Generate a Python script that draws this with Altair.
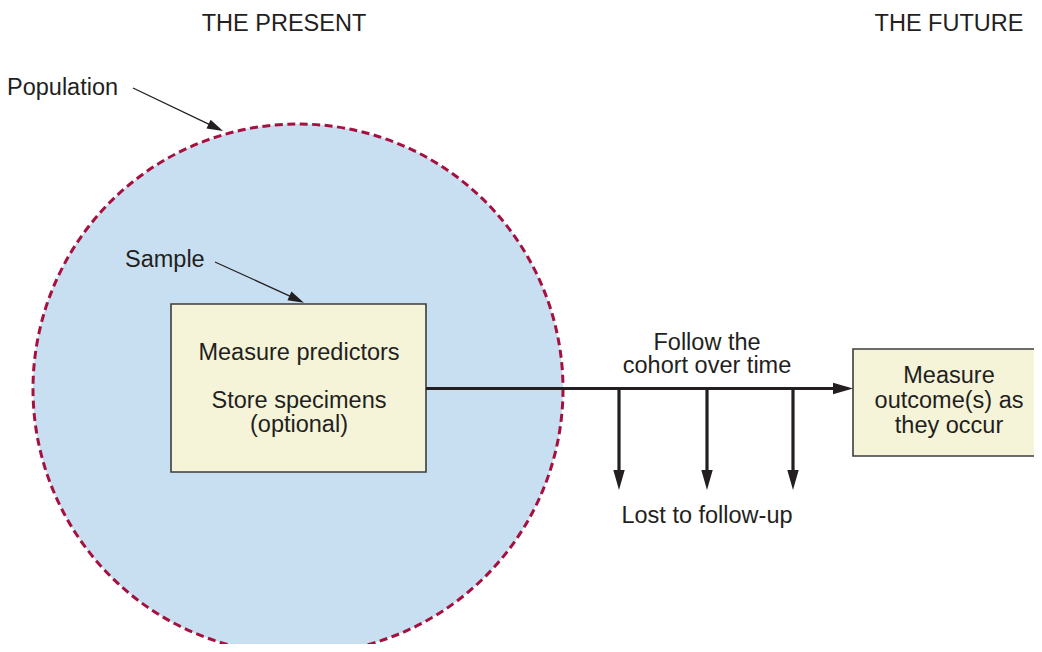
import altair as alt
import pandas as pd

# ---- layout data (image pixel coordinates) ----
circle_x = [298]
circle_y = [389]
circle_d = [530]

box_x1 = [171, 853]
box_x2 = [426, 1060]
box_y1 = [304, 349]
box_y2 = [472, 456]

# thick arrow shafts
shaft_x1 = [426, 619, 707, 793]
shaft_x2 = [836, 619, 707, 793]
shaft_y1 = [388.5, 388.5, 388.5, 388.5]
shaft_y2 = [388.5, 472, 472, 472]

# thick arrow heads (centre, angle)
head_x = [843, 619, 707, 793]
head_y = [388.5, 480, 480, 480]
head_angle = [0, 90, 90, 90]

# thin pointer lines
ptr_x1 = [133, 215]
ptr_y1 = [88, 262]
ptr_x2 = [216, 297]
ptr_y2 = [127.6, 299.3]
ptr_head_x = [215.8, 296.7]
ptr_head_y = [127.6, 299.3]
ptr_angle = [25.5, 24.7]

# single-line centred labels
labels = ["THE PRESENT", "THE FUTURE", "Lost to follow-up", "Measure predictors"]
label_x = [284, 949, 707, 299]
label_y = [31, 31, 523, 360]

# multi-line centred labels (first-line baseline, line height)
ml_labels = ["Follow the\ncohort over time", "Store specimens\n(optional)",
             "Measure\noutcome(s) as\nthey occur"]
ml_x = [707, 299, 949]
ml_y = [350, 408, 383]
ml_lh = [23, 24, 25]

left_labels = ["Population", "Sample"]
left_x = [7, 125]
left_y = [95, 267]

# ---- scales ----
xs = alt.Scale(domain=[8, 1034], nice=False, zero=False)
ys = alt.Scale(domain=[8, 644], nice=False, zero=False, reverse=True)
X = lambda f: alt.X(f, scale=xs, axis=None)
Y = lambda f: alt.Y(f, scale=ys, axis=None)

ink = "#231f20"
font = "Liberation Sans"
fs = 23.5

circle = alt.Chart(pd.DataFrame({"x": circle_x, "y": circle_y, "d": circle_d})).transform_calculate(
    s="datum.d * datum.d").mark_point(
    shape="circle", filled=False, fill="#c8dff2", fillOpacity=1,
    stroke="#a5103f", strokeWidth=3, strokeDash=[8, 4.5], opacity=1
).encode(x=X("x:Q"), y=Y("y:Q"), size=alt.Size("s:Q", scale=None))

boxes = alt.Chart(pd.DataFrame({"x1": box_x1, "x2": box_x2, "y1": box_y1, "y2": box_y2})).mark_rect(
    fill="#f5f4d9", stroke="#3c3c3c", strokeWidth=1.6
).encode(x=X("x1:Q"), x2="x2:Q", y=Y("y1:Q"), y2="y2:Q")

shafts = alt.Chart(pd.DataFrame({"x1": shaft_x1, "x2": shaft_x2, "y1": shaft_y1, "y2": shaft_y2})).mark_rule(
    color=ink, strokeWidth=3.2
).encode(x=X("x1:Q"), x2="x2:Q", y=Y("y1:Q"), y2="y2:Q")

heads = alt.Chart(pd.DataFrame({"x": head_x, "y": head_y, "a": head_angle})).mark_point(
    shape="M1,0 L-1,-0.57 L-1,0.57 Z", filled=True, color=ink, opacity=1, size=400
).encode(x=X("x:Q"), y=Y("y:Q"), angle=alt.Angle("a:Q", scale=None))

ptrs = alt.Chart(pd.DataFrame({"x1": ptr_x1, "x2": ptr_x2, "y1": ptr_y1, "y2": ptr_y2})).mark_rule(
    color=ink, strokeWidth=1.3
).encode(x=X("x1:Q"), x2="x2:Q", y=Y("y1:Q"), y2="y2:Q")

ptr_heads = alt.Chart(pd.DataFrame({"x": ptr_head_x, "y": ptr_head_y, "a": ptr_angle})).mark_point(
    shape="M1,0 L-1,-0.6 L-1,0.6 Z", filled=True, color=ink, opacity=1, size=256
).encode(x=X("x:Q"), y=Y("y:Q"), angle=alt.Angle("a:Q", scale=None))

texts = alt.Chart(pd.DataFrame({"t": labels, "x": label_x, "y": label_y})).mark_text(
    align="center", baseline="alphabetic", font=font, fontSize=fs, color=ink
).encode(x=X("x:Q"), y=Y("y:Q"), text="t:N")

ml_layers = []
for t, x, y, lh in zip(ml_labels, ml_x, ml_y, ml_lh):
    ml_layers.append(
        alt.Chart(pd.DataFrame({"t": [t], "x": [x], "y": [y]})).mark_text(
            align="center", baseline="alphabetic", font=font, fontSize=fs, color=ink,
            lineBreak="\n", lineHeight=lh
        ).encode(x=X("x:Q"), y=Y("y:Q"), text="t:N")
    )

ltexts = alt.Chart(pd.DataFrame({"t": left_labels, "x": left_x, "y": left_y})).mark_text(
    align="left", baseline="alphabetic", font=font, fontSize=fs, color=ink
).encode(x=X("x:Q"), y=Y("y:Q"), text="t:N")

chart = alt.layer(circle, boxes, shafts, heads, ptrs, ptr_heads, texts, *ml_layers, ltexts).properties(
    width=1026, height=636, padding=0,
    autosize=alt.AutoSizeParams(type="none"),
    background="white"
).configure_view(stroke=None)

chart.save("out.html", embed_options={"renderer": "svg", "actions": False})
